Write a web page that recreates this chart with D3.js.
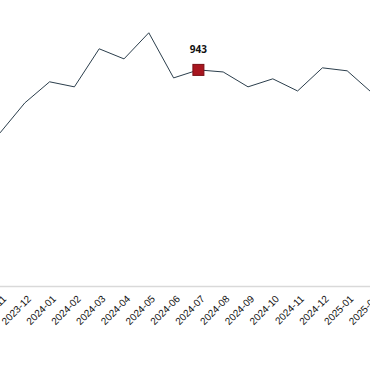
<!DOCTYPE html>
<html>
<head>
<meta charset="utf-8">
<script src="https://cdn.jsdelivr.net/npm/d3@7"></script>
<style>
  body { margin: 0; background: #fff; }
  svg { display: block; font-family: "Open Sans", sans-serif; }
</style>
</head>
<body>
<div class="chart"></div>
<script>
var months = ["2023-11", "2023-12", "2024-01", "2024-02", "2024-03", "2024-04",
    "2024-05", "2024-06", "2024-07", "2024-08", "2024-09", "2024-10",
    "2024-11", "2024-12", "2025-01", "2025-02"];
var values = [668, 799, 891, 869, 1035, 991, 1105, 908, 943, 934, 869, 904, 851, 952, 939, 843];
var highlight = "2024-07";

var width = 370, height = 380;

var svg = d3.select(".chart")
    .append("svg")
    .attr("width", width)
    .attr("height", height);

// the plot is wider than the window, so it gets clipped on both sides
var x = d3.scalePoint()
    .domain(months)
    .range([0, 372]);

var y = d3.scaleLinear()
    .domain([0, 1200])
    .range([286, 11]);

var data = months.map(function (m, i) { return { month: m, value: values[i] }; });

// x axis
var xAxis = svg.append("g")
    .attr("transform", "translate(0," + y(0) + ")")
    .call(d3.axisBottom(x).tickSize(0).tickPadding(0));

xAxis.select(".domain")
    .attr("stroke", "#d9d9d9")
    .attr("stroke-width", 1.5)
    .attr("d", "M0,0.5H" + width);

xAxis.selectAll("text")
    .attr("font-size", 10)
    .attr("fill", "#111")
    .attr("text-anchor", "end")
    .attr("transform", "translate(4,11) rotate(-45)")
    .attr("dy", "0.35em")
    .attr("y", 0);

// line
var line = d3.line()
    .x(function (d) { return x(d.month); })
    .y(function (d) { return y(d.value); });

svg.append("path")
    .datum(data)
    .attr("fill", "none")
    .attr("stroke", "#2b3e4c")
    .attr("stroke-width", 1)
    .attr("d", line);

// highlighted point
var hi = data.filter(function (d) { return d.month === highlight; })[0];

svg.append("rect")
    .attr("x", x(hi.month) - 5.5)
    .attr("y", y(hi.value) - 5.5)
    .attr("width", 11)
    .attr("height", 11)
    .attr("fill", "#a8161f")
    .attr("stroke", "#7a0e14")
    .attr("stroke-width", 1);

svg.append("text")
    .attr("x", x(hi.month))
    .attr("y", y(hi.value) - 17)
    .attr("text-anchor", "middle")
    .attr("font-size", 10)
    .attr("font-weight", "bold")
    .attr("fill", "#111")
    .text(hi.value);
</script>
</body>
</html>
